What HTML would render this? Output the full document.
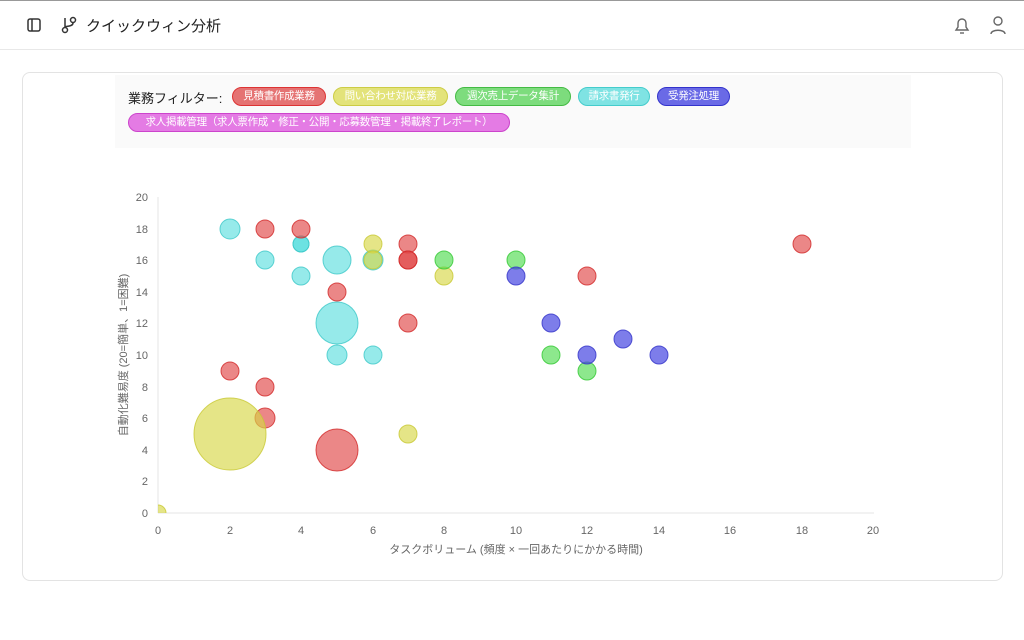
<!DOCTYPE html>
<html><head><meta charset="utf-8"><style>
body{margin:0;width:1024px;height:640px;background:#fff;font-family:"Liberation Sans","Noto Sans CJK JP",sans-serif;position:relative;overflow:hidden}
.top{position:absolute;left:0;top:0;width:1024px;height:1px;background:#999}
.hdr{position:absolute;left:0;top:1px;width:1024px;height:48px;border-bottom:1px solid #e8e8e8}
.title{position:absolute;left:86px;top:14px;font-size:15px;color:#222}
.card{position:absolute;left:22px;top:72px;width:979px;height:507px;border:1px solid #e3e3e3;border-radius:8px}
.filt{position:absolute;left:115px;top:75px;width:796px;height:73px;background:#fafafa}
.lab{position:absolute;left:128px;top:88px;font-size:13px;color:#222}
.chip{position:absolute;height:19px;line-height:17px;font-size:10.5px;color:#fff;border-radius:10px;padding:0 7px;box-sizing:border-box;text-align:center;white-space:nowrap;overflow:hidden;letter-spacing:-0.3px}
</style></head><body>
<div class="top"></div>
<div class="hdr">
<svg style="position:absolute;left:27px;top:17px" width="14" height="14"><rect x="1" y="1" width="12" height="12" rx="2" fill="none" stroke="#333" stroke-width="1.5"/><line x1="5" y1="1" x2="5" y2="13" stroke="#333" stroke-width="1.5"/></svg>
<svg style="position:absolute;left:61px;top:15px" width="16" height="18"><circle cx="4" cy="14" r="2.5" fill="none" stroke="#333" stroke-width="1.5"/><circle cx="12" cy="4" r="2.5" fill="none" stroke="#333" stroke-width="1.5"/><path d="M4 2v9M12 7c0 4-8 3-8 4" fill="none" stroke="#333" stroke-width="1.5"/></svg>
<div class="title">クイックウィン分析</div>
<svg style="position:absolute;left:953px;top:15px" width="18" height="20"><path d="M3 14h12l-2-3V7a4 4 0 0 0-8 0v4z" fill="none" stroke="#666" stroke-width="1.4"/><path d="M7 17h4" stroke="#666" stroke-width="1.4"/></svg>
<svg style="position:absolute;left:989px;top:14px" width="18" height="20"><circle cx="9" cy="6" r="4" fill="none" stroke="#666" stroke-width="1.4"/><path d="M2 19c0-5 14-5 14 0" fill="none" stroke="#666" stroke-width="1.4"/></svg>
</div>
<div class="card"></div>
<div class="filt"></div>
<div class="lab">業務フィルター:</div>
<div class="chip" style="left:232px;top:87px;width:94px;background:#e57373;border:1px solid #d33">見積書作成業務</div>
<div class="chip" style="left:333px;top:87px;width:115px;background:#e3e37a;border:1px solid #cc4">問い合わせ対応業務</div>
<div class="chip" style="left:455px;top:87px;width:116px;background:#7ddc7d;border:1px solid #4b4">週次売上データ集計</div>
<div class="chip" style="left:578px;top:87px;width:72px;background:#7fe3e3;border:1px solid #4cc">請求書発行</div>
<div class="chip" style="left:657px;top:87px;width:73px;background:#6a6ae6;border:1px solid #33c">受発注処理</div>
<div class="chip" style="left:128px;top:113px;width:382px;background:#e47be4;border:1px solid #c4c">求人掲載管理（求人票作成・修正・公開・応募数管理・掲載終了レポート）</div>
<svg style="position:absolute;left:0;top:0" width="1024" height="640" font-family="Liberation Sans, Noto Sans CJK JP, sans-serif">
<defs><clipPath id="c"><rect x="158" y="150" width="730" height="363"/></clipPath></defs>
<line x1="158" y1="197" x2="158" y2="513" stroke="#e5e5e5"/>
<line x1="158" y1="513" x2="874" y2="513" stroke="#e5e5e5"/>
<g font-size="11" fill="#666" text-anchor="end">
<text x="148" y="517">0</text><text x="148" y="454">4</text><text x="148" y="485">2</text><text x="148" y="422">6</text><text x="148" y="391">8</text><text x="148" y="359">10</text><text x="148" y="327">12</text><text x="148" y="296">14</text><text x="148" y="264">16</text><text x="148" y="233">18</text><text x="148" y="201">20</text>
</g>
<g font-size="11" fill="#666" text-anchor="middle">
<text x="158" y="534">0</text><text x="230" y="534">2</text><text x="301" y="534">4</text><text x="373" y="534">6</text><text x="444" y="534">8</text><text x="516" y="534">10</text><text x="587" y="534">12</text><text x="659" y="534">14</text><text x="730" y="534">16</text><text x="802" y="534">18</text><text x="873" y="534">20</text>
</g>
<text x="516" y="553" font-size="11" fill="#666" text-anchor="middle">タスクボリューム (頻度 × 一回あたりにかかる時間)</text>
<text transform="translate(127,355) rotate(-90)" font-size="11" fill="#666" text-anchor="middle">自動化難易度 (20=簡単、1=困難)</text>
<g clip-path="url(#c)">
<g fill="rgba(80,220,220,0.6)" stroke="rgba(60,200,200,0.8)">
<circle cx="230" cy="229" r="10"/><circle cx="265" cy="260" r="9"/><circle cx="301" cy="244" r="8"/><circle cx="301" cy="244" r="8"/><circle cx="301" cy="276" r="9"/><circle cx="337" cy="260" r="14"/><circle cx="337" cy="323" r="21"/><circle cx="337" cy="355" r="10"/><circle cx="373" cy="355" r="9"/><circle cx="373" cy="260" r="10"/>
</g>
<g fill="rgba(225,70,70,0.65)" stroke="rgba(210,40,40,0.8)">
<circle cx="265" cy="229" r="9"/><circle cx="301" cy="229" r="9"/><circle cx="408" cy="244" r="9"/><circle cx="408" cy="260" r="9"/><circle cx="408" cy="260" r="9"/><circle cx="337" cy="292" r="9"/><circle cx="408" cy="323" r="9"/><circle cx="230" cy="371" r="9"/><circle cx="265" cy="387" r="9"/><circle cx="265" cy="418" r="10"/><circle cx="337" cy="450" r="21"/><circle cx="587" cy="276" r="9"/><circle cx="802" cy="244" r="9"/>
</g>
<g fill="rgba(215,215,70,0.65)" stroke="rgba(200,200,50,0.8)">
<circle cx="373" cy="244" r="9"/><circle cx="373" cy="260" r="9"/><circle cx="444" cy="276" r="9"/><circle cx="230" cy="434" r="36"/><circle cx="408" cy="434" r="9"/><circle cx="158" cy="513" r="8"/>
</g>
<g fill="rgba(80,220,80,0.65)" stroke="rgba(50,200,50,0.8)">
<circle cx="444" cy="260" r="9"/><circle cx="516" cy="260" r="9"/><circle cx="551" cy="355" r="9"/><circle cx="587" cy="371" r="9"/>
</g>
<g fill="rgba(70,70,225,0.7)" stroke="rgba(50,50,200,0.8)">
<circle cx="516" cy="276" r="9"/><circle cx="551" cy="323" r="9"/><circle cx="587" cy="355" r="9"/><circle cx="623" cy="339" r="9"/><circle cx="659" cy="355" r="9"/>
</g>
</g>
</svg>
</body></html>
